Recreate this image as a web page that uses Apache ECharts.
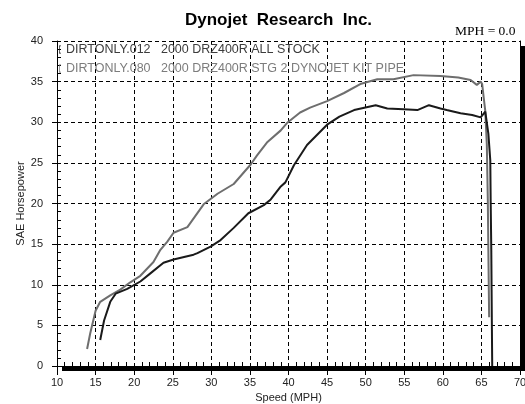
<!DOCTYPE html>
<html>
<head>
<meta charset="utf-8">
<script src="https://cdn.jsdelivr.net/npm/echarts@6/dist/echarts.min.js"></script>
<style>
  html, body { margin: 0; padding: 0; background: #fff; }
  #chart { width: 525px; height: 404px; }
</style>
</head>
<body>
<div id="chart"></div>
<script>
// Run names shown inside the plot
const stockName = "DIRTONLY.012   2000 DRZ400R ALL STOCK";
const pipeName = "DIRTONLY.080   2000 DRZ400R STG 2 DYNOJET KIT PIPE";

// Stock run (black)
const stockSpeed = [15.6, 16.1, 16.9, 17.6, 19.1, 20.8, 22.1, 23.8, 25.1, 27.7, 28.2, 29.9, 31.2, 32.9, 34.8, 36.8, 37.7, 39.0, 39.6, 40.7, 42.4, 45.0, 46.6, 48.5, 51.3, 52.8, 54.9, 56.7, 58.2, 59.7, 60.5, 62.3, 63.8, 64.9, 65.5, 65.9, 66.15, 66.2, 66.28, 66.35, 66.4];
const stockHp = [3.2, 5.6, 7.9, 8.9, 9.5, 10.4, 11.4, 12.7, 13.1, 13.7, 13.9, 14.7, 15.5, 17.0, 18.8, 19.8, 20.5, 22.1, 22.6, 24.7, 27.2, 29.7, 30.7, 31.5, 32.1, 31.7, 31.6, 31.5, 32.1, 31.7, 31.5, 31.1, 30.9, 30.6, 31.3, 28.6, 25.3, 20.3, 14.2, 5.6, 0];

// Stage 2 kit pipe run (gray)
const pipeSpeed = [13.9, 14.3, 15.0, 15.6, 16.9, 18.2, 19.5, 20.8, 22.5, 23.4, 24.3, 25.1, 26.9, 29.0, 30.8, 32.9, 35.1, 35.9, 37.2, 39.0, 39.8, 41.5, 42.8, 45.0, 47.2, 49.3, 51.5, 53.6, 56.2, 59.7, 62.0, 63.6, 64.4, 64.9, 65.1, 65.3, 65.5, 65.7, 65.83, 65.9, 66.0];
const pipeHp = [2.1, 4.0, 6.8, 7.9, 8.7, 9.4, 10.3, 11.1, 12.8, 14.3, 15.3, 16.4, 17.1, 19.9, 21.2, 22.4, 24.8, 25.9, 27.5, 29.0, 29.9, 31.2, 31.8, 32.6, 33.6, 34.7, 35.3, 35.3, 35.8, 35.7, 35.5, 35.2, 34.6, 35.0, 34.7, 33.0, 31.4, 27.3, 20.3, 14.2, 6.0];

const font = "'Liberation Sans', Arial, sans-serif";

function pairs(xs, ys) {
  return xs.map((x, i) => [x, ys[i]]);
}

const chart = echarts.init(document.getElementById("chart"));

const dashed = { show: true, lineStyle: { color: "#000", type: [4, 3], width: 1 } };

// plain axis used only to draw the top / right frame line
function frameAxis(min, max, position) {
  return {
    type: "value",
    min: min,
    max: max,
    position: position,
    axisLine: { show: true, lineStyle: { color: "#000" } },
    axisTick: { show: false },
    axisLabel: { show: false },
    splitLine: { show: false },
  };
}

// axis that only draws the small inside ticks every 1 unit
function minorAxis(min, max, position) {
  return {
    type: "value",
    min: min,
    max: max,
    interval: 5,
    position: position,
    axisLine: { show: false },
    axisTick: { show: false, inside: true },
    axisLabel: { show: false },
    minorTick: { show: true, splitNumber: 5, length: 4, lineStyle: { color: "#000" } },
    splitLine: { show: false },
  };
}

const option = {
  backgroundColor: "#fff",
  animation: false,
  title: {
    text: "Dynojet  Research  Inc.",
    left: 180,
    top: 7,
    textStyle: { fontFamily: font, fontSize: 17, fontWeight: "bold", color: "#000" },
  },
  graphic: [
    {
      type: "text",
      left: 455,
      top: 24,
      style: { text: "MPH = 0.0", font: "13.5px 'Liberation Serif', serif", fill: "#000" },
    },
  ],
  legend: {
    orient: "vertical",
    left: 59,
    top: 43,
    padding: 0,
    itemGap: 6,
    itemWidth: 2,
    itemHeight: 12,
    icon: "path://M0,0 L3,0 L3,1 L1,1 L1,11 L3,11 L3,12 L0,12 Z",
    selectedMode: false,
    textStyle: { fontFamily: font, fontSize: 12.5 },
    data: [
      { name: stockName, textStyle: { color: "#3c3c3c" } },
      { name: pipeName, textStyle: { color: "#7c7c7c" } },
    ],
  },
  grid: {
    left: 57,
    right: 5,
    top: 41,
    bottom: 38,
    outerBoundsMode: "none",
    show: true,
    backgroundColor: "#fff",
    borderWidth: 0,
    shadowColor: "#000",
    shadowBlur: 0,
    shadowOffsetX: 5,
    shadowOffsetY: 5,
  },
  xAxis: [
    {
      type: "value",
      min: 10,
      max: 70,
      interval: 5,
      position: "bottom",
      name: "Speed (MPH)",
      nameLocation: "middle",
      nameGap: 24,
      nameTextStyle: { fontFamily: font, fontSize: 11, color: "#222" },
      axisLine: { lineStyle: { color: "#000" } },
      axisTick: { show: true, length: 9, lineStyle: { color: "#000" } },
      axisLabel: { fontFamily: font, fontSize: 11, color: "#222", margin: 11 },
      splitLine: dashed,
    },
    minorAxis(10, 70, "bottom"),
    frameAxis(10, 70, "top"),
  ],
  yAxis: [
    {
      type: "value",
      min: 0,
      max: 40,
      interval: 5,
      position: "left",
      name: "SAE Horsepower",
      nameLocation: "middle",
      nameMoveOverlap: false,
      nameGap: 31,
      nameTextStyle: { fontFamily: font, fontSize: 11, color: "#222" },
      axisLine: { show: true, lineStyle: { color: "#000" } },
      axisTick: { show: true, length: 5, lineStyle: { color: "#000" } },
      axisLabel: { fontFamily: font, fontSize: 11, color: "#222", margin: 14 },
      splitLine: dashed,
    },
    minorAxis(0, 40, "left"),
    frameAxis(0, 40, "right"),
  ],
  series: [
    {
      name: pipeName,
      type: "line",
      data: pairs(pipeSpeed, pipeHp),
      showSymbol: false,
      color: "#6e6e6e",
      lineStyle: { width: 2, color: "#6e6e6e" },
      z: 2,
    },
    {
      name: stockName,
      type: "line",
      data: pairs(stockSpeed, stockHp),
      showSymbol: false,
      color: "#1a1a1a",
      lineStyle: { width: 2, color: "#1a1a1a" },
      z: 3,
    },
  ],
};

chart.setOption(option);
window.addEventListener("resize", chart.resize);
</script>
</body>
</html>
